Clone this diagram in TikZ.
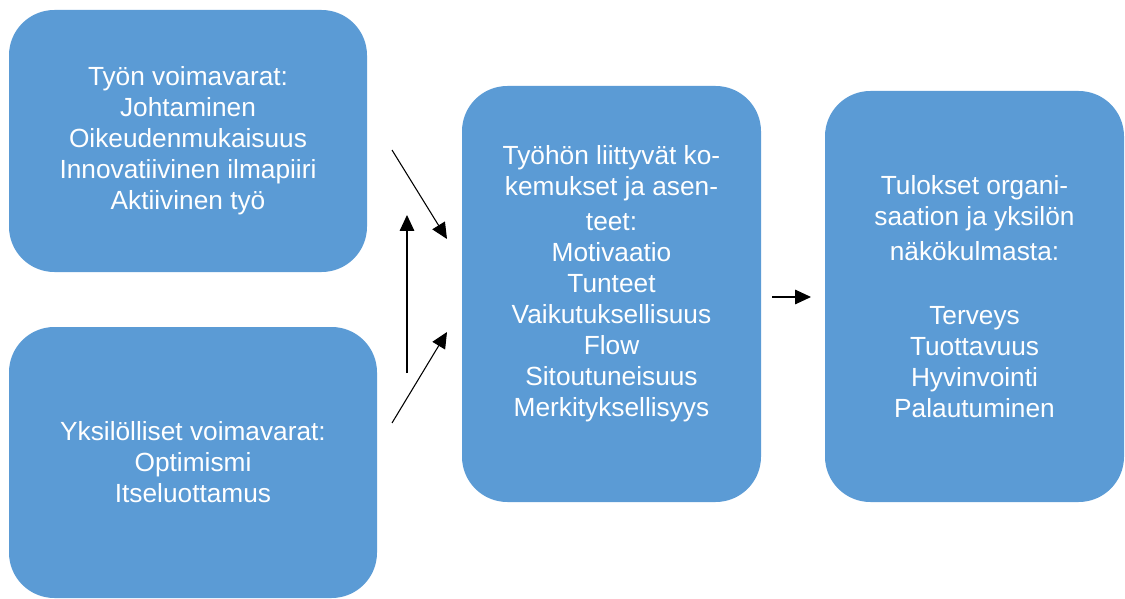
\documentclass[tikz,border=0pt]{standalone}
\usepackage{fontspec}
\setmainfont{Liberation Sans}
\usetikzlibrary{arrows.meta,positioning}
\definecolor{boxblue}{HTML}{5B9BD5}
\tikzset{
    box/.style={fill=boxblue, rounded corners=34pt, text=white, align=center, inner sep=0pt,
        font=\fontsize{19.7pt}{23.25pt}\selectfont},
    flow/.style={-{Triangle[length=12pt, width=11pt]}, line width=0.8pt, black}
}

\begin{document}
\begin{tikzpicture}[x=0.75pt, y=-0.75pt]
    \useasboundingbox (0,0) rectangle (1125,599);
    \node[box, minimum width=268.5pt, minimum height=196.5pt] (work) at (188,141)
        {Työn voimavarat:\\Johtaminen\\Oikeudenmukaisuus\\Innovatiivinen ilmapiiri\\Aktiivinen työ};
    \node[box, minimum width=276pt, minimum height=203.25pt] (personal) at (193,462.5)
        {Yksilölliset voimavarat:\\Optimismi\\Itseluottamus};
    \node[box, minimum width=224.25pt, minimum height=312pt] (experience) at (611.5,294)
        {Työhön liittyvät ko-\\kemukset ja asen-\\[3pt]teet:\\Motivaatio\\Tunteet\\Vaikutuksellisuus\\Flow\\Sitoutuneisuus\\Merkityksellisyys\\[-4pt]\mbox{}};
    \node[box, minimum width=224.25pt, minimum height=308.25pt] (results) at (974.5,296.5)
        {Tulokset organi-\\saation ja yksilön\\[3pt]näkökulmasta:\\[24.75pt]Terveys\\Tuottavuus\\Hyvinvointi\\Palautuminen};
    \coordinate (work-out) at (392,150);
    \coordinate (exp-in-top) at (447,239);
    \coordinate (personal-up) at (407,373);
    \coordinate (work-in) at (407,215);
    \coordinate (personal-out) at (392,423);
    \coordinate (exp-in-low) at (447,332);
    \coordinate (exp-out) at (772,297);
    \coordinate (results-in) at (811,297);
    \draw[flow] (work-out) -- (exp-in-top);
    \draw[flow] (personal-up) -- (work-in);
    \draw[flow] (personal-out) -- (exp-in-low);
    \draw[flow] (exp-out) -- (results-in);
\end{tikzpicture}
\end{document}
